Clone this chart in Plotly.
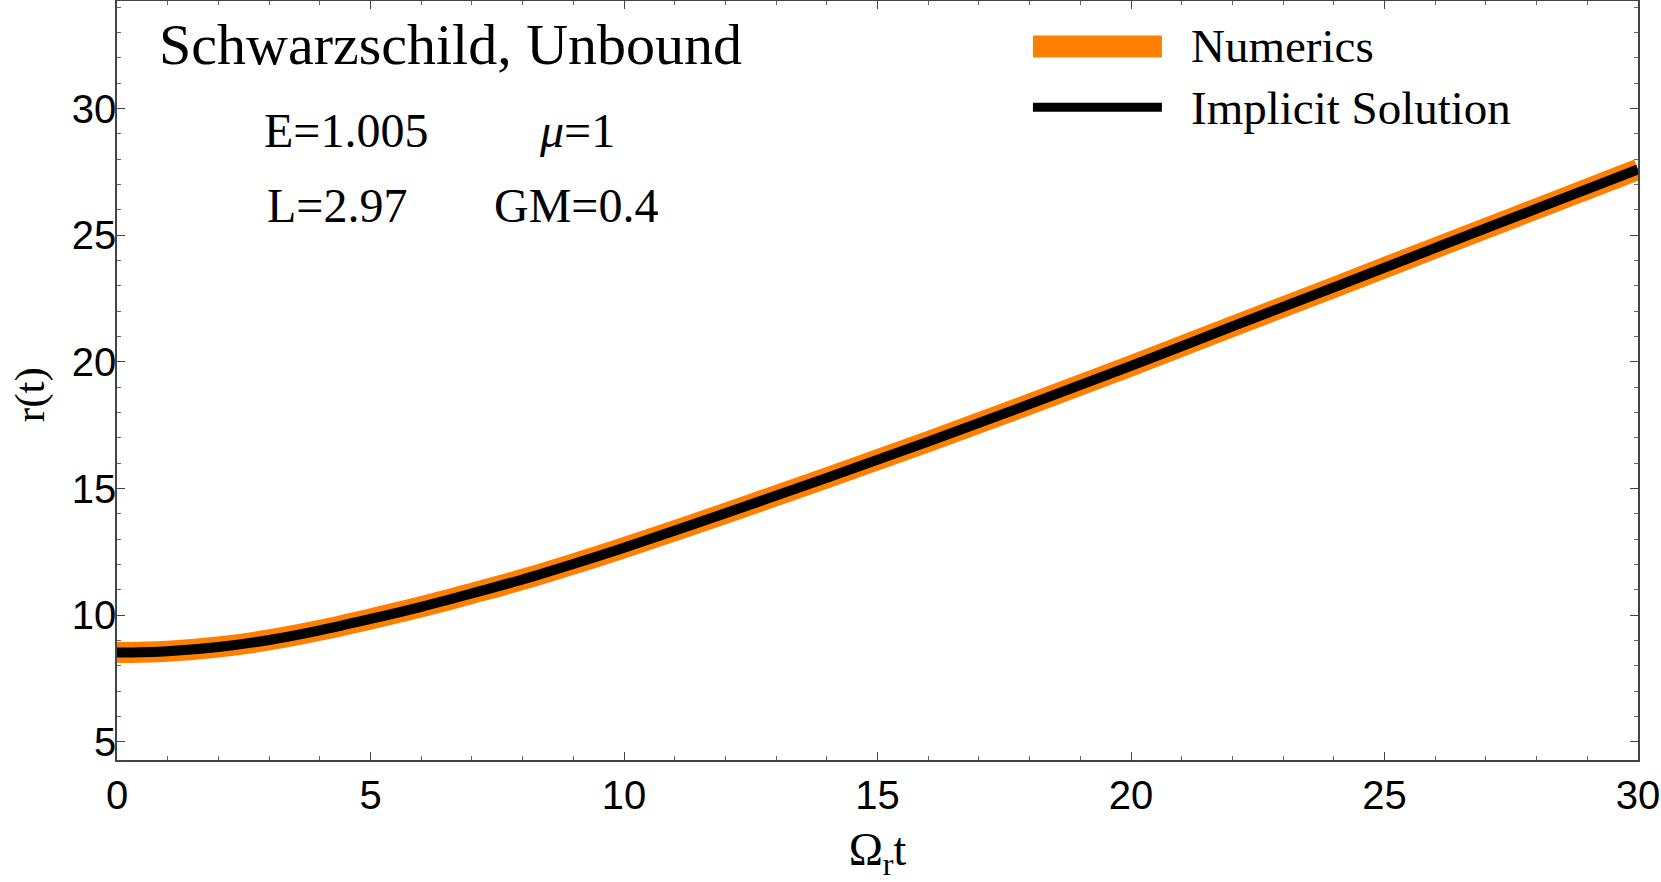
import plotly.graph_objects as go

# ---- data ----
t_vals = [0, 1, 2, 3, 4, 5, 6, 7, 8, 9, 10, 12, 14, 16, 18, 20, 22, 24, 26, 28, 30]
r_numerics = [8.52, 8.575, 8.74, 9.02, 9.40, 9.85, 10.33, 10.86, 11.41, 12.02, 12.66,
              14.02, 15.42, 16.85, 18.33, 19.84, 21.40, 22.94, 24.50, 26.05, 27.60]
r_implicit = list(r_numerics)

x_ticks = [0, 5, 10, 15, 20, 25, 30]
y_ticks = [5, 10, 15, 20, 25, 30]

legend_names = ["Numerics", "Implicit Solution"]
param_lines = [["E=1.005", "<i>μ</i>=1"], ["L=2.97", "GM=0.4"]]
panel_title = "Schwarzschild, Unbound"
x_title = "Ω<sub>r</sub>t"
y_title = "r(t)"

ORANGE = "#FF8000"
SERIF = "Liberation Serif, Times New Roman, serif"
SANS = "Liberation Sans, Arial, sans-serif"

fig = go.Figure()
fig.add_trace(go.Scatter(x=t_vals, y=r_numerics, mode="lines", name=legend_names[0],
                         line=dict(color=ORANGE, width=21, shape="spline"), showlegend=False))
fig.add_trace(go.Scatter(x=t_vals, y=r_implicit, mode="lines", name=legend_names[1],
                         line=dict(color="black", width=10, shape="spline"), showlegend=False))

axis_common = dict(showline=True, linecolor="#444", linewidth=1.5, mirror="allticks",
                   ticks="inside", ticklen=8, tickwidth=1.2, tickcolor="#444",
                   showgrid=False, zeroline=False, automargin=False,
                   tickfont=dict(family=SANS, size=40, color="black"))

fig.update_xaxes(range=[0, 30], tickvals=x_ticks, ticklabelstandoff=-1,
                 minor=dict(ticks="inside", ticklen=4, dtick=1, tickcolor="#666", tickwidth=1),
                 title=dict(text=x_title, font=dict(family=SERIF, size=46, color="black"),
                            standoff=42),
                 **axis_common)
fig.update_yaxes(range=[4.28, 34.25], tickvals=y_ticks, ticklabelstandoff=-9,
                 minor=dict(ticks="inside", ticklen=4, dtick=1, tickcolor="#666", tickwidth=1),
                 **axis_common)

annotations = [
    dict(text=y_title, x=-0.0572, y=0.482, xref="paper", yref="paper", textangle=-90,
         xanchor="center", yanchor="middle", showarrow=False,
         font=dict(family=SERIF, size=43, color="black")),
    dict(text=panel_title, x=0.0263, y=0.943, xref="paper", yref="paper",
         xanchor="left", yanchor="middle", showarrow=False,
         font=dict(family=SERIF, size=58, color="black")),
    dict(text=param_lines[0][0], x=0.0953, y=0.829, xref="paper", yref="paper",
         xanchor="left", yanchor="middle", showarrow=False,
         font=dict(family=SERIF, size=48, color="black")),
    dict(text=param_lines[0][1], x=0.276, y=0.829, xref="paper", yref="paper",
         xanchor="left", yanchor="middle", showarrow=False,
         font=dict(family=SERIF, size=48, color="black")),
    dict(text=param_lines[1][0], x=0.0973, y=0.730, xref="paper", yref="paper",
         xanchor="left", yanchor="middle", showarrow=False,
         font=dict(family=SERIF, size=48, color="black")),
    dict(text=param_lines[1][1], x=0.2465, y=0.730, xref="paper", yref="paper",
         xanchor="left", yanchor="middle", showarrow=False,
         font=dict(family=SERIF, size=48, color="black")),
    dict(text=legend_names[0], x=0.7045, y=0.941, xref="paper", yref="paper",
         xanchor="left", yanchor="middle", showarrow=False,
         font=dict(family=SERIF, size=47, color="black")),
    dict(text=legend_names[1], x=0.7045, y=0.859, xref="paper", yref="paper",
         xanchor="left", yanchor="middle", showarrow=False,
         font=dict(family=SERIF, size=47, color="black")),
]

shapes = [
    dict(type="line", xref="paper", yref="paper", x0=0.6022, x1=0.687, y0=0.940, y1=0.940,
         line=dict(color=ORANGE, width=22)),
    dict(type="line", xref="paper", yref="paper", x0=0.6022, x1=0.687, y0=0.860, y1=0.860,
         line=dict(color="black", width=9)),
]

fig.update_layout(width=1661, height=882, plot_bgcolor="white", paper_bgcolor="white",
                  margin=dict(l=117, r=23, t=1, b=122, autoexpand=False),
                  annotations=annotations, shapes=shapes, showlegend=False)

fig.write_html("out.html", config={"displayModeBar": False},
               post_script="document.body.style.margin='0';document.body.style.overflow='hidden';")
